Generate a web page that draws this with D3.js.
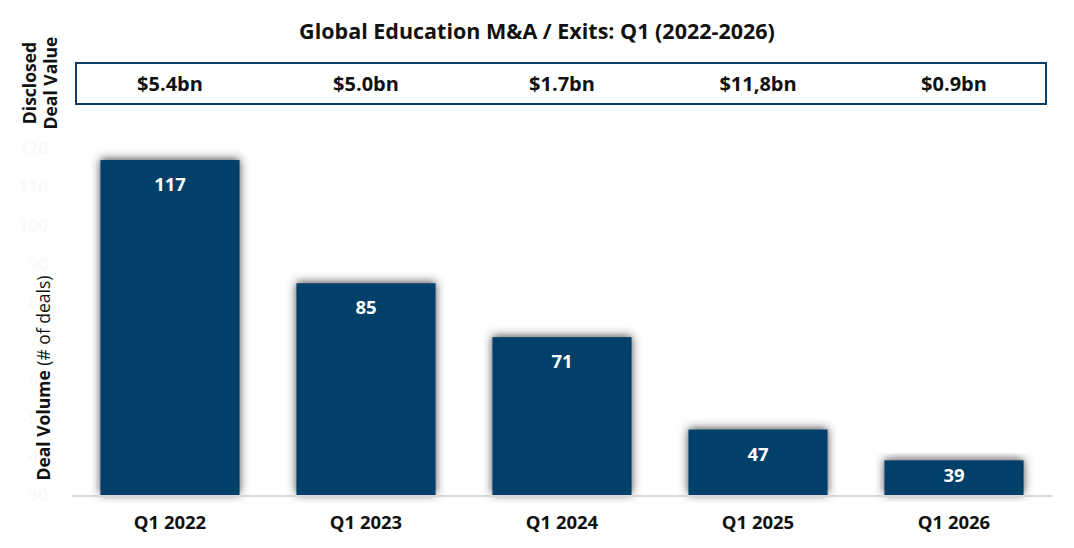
<!DOCTYPE html>
<meta charset="utf-8">
<style>
    body {
        margin: 0;
        background: #fff;
        font-family: "Open Sans", sans-serif;
    }
</style>
<body>
    <svg width="1074" height="548"></svg>

    <script src="https://d3js.org/d3.v7.min.js"></script>
    <script>
        // données
        const quarters = ["Q1 2022", "Q1 2023", "Q1 2024", "Q1 2025", "Q1 2026"];
        const dealVolume = [117, 85, 71, 47, 39];
        const dealValue = ["$5.4bn", "$5.0bn", "$1.7bn", "$11,8bn", "$0.9bn"];
        const yTicks = [30, 40, 50, 60, 70, 80, 90, 100, 110, 120];

        const data = quarters.map((q, i) => ({ q, volume: dealVolume[i], value: dealValue[i] }));

        const svg = d3.select("svg");
        const width = +svg.attr("width");
        const height = +svg.attr("height");
        const margin = { top: 110, bottom: 53, left: 72, right: 22 };
        const navy = "#003f69";

        const x = d3.scaleBand()
            .domain(quarters)
            .range([margin.left, width - margin.right])
            .paddingInner(0.29)
            .paddingOuter(0.145);

        const y = d3.scaleLinear()
            .domain([30, 130])
            .range([height - margin.bottom, margin.top]);

        // ombre des barres
        const defs = svg.append("defs");
        const shadow = defs.append("filter")
            .attr("id", "shadow")
            .attr("x", "-20%").attr("y", "-20%")
            .attr("width", "140%").attr("height", "140%");
        shadow.append("feDropShadow")
            .attr("dx", 0)
            .attr("dy", -1)
            .attr("stdDeviation", 5)
            .attr("flood-color", "#333")
            .attr("flood-opacity", 0.9);

        // titre
        svg.append("text")
            .attr("x", 537)
            .attr("y", 39)
            .attr("text-anchor", "middle")
            .style("font-size", "21.5px")
            .style("font-weight", "bold")
            .style("fill", "#111")
            .text("Global Education M&A / Exits: Q1 (2022-2026)");

        // axe y (étiquettes presque blanches)
        const yAxis = svg.append("g")
            .attr("transform", `translate(${margin.left - 24},0)`)
            .call(d3.axisLeft(y).tickValues(yTicks).tickSize(0).tickPadding(0));
        yAxis.select(".domain").remove();
        yAxis.selectAll("text")
            .style("font-size", "17px")
            .style("font-family", "Open Sans, sans-serif")
            .style("fill", "#f8f8f8");

        // boîte des valeurs
        svg.append("rect")
            .attr("x", margin.left + 4)
            .attr("y", 63)
            .attr("width", 970)
            .attr("height", 41)
            .attr("fill", "#fff")
            .attr("stroke", "#0d3f66")
            .attr("stroke-width", 2);

        svg.append("g")
            .selectAll("text")
            .data(data)
            .join("text")
            .attr("x", d => x(d.q) + x.bandwidth() / 2)
            .attr("y", 91)
            .attr("text-anchor", "middle")
            .style("font-size", "20px")
            .style("font-weight", "bold")
            .style("fill", "#111")
            .text(d => d.value);

        // titres verticaux
        const discl = svg.append("g").attr("transform", "translate(37,83) rotate(-90)");
        discl.append("text")
            .attr("text-anchor", "middle")
            .attr("y", -1)
            .style("font-size", "17.5px")
            .style("font-weight", "bold")
            .style("fill", "#111")
            .text("Disclosed");
        discl.append("text")
            .attr("text-anchor", "middle")
            .attr("y", 20)
            .style("font-size", "17.5px")
            .style("font-weight", "bold")
            .style("fill", "#111")
            .text("Deal Value");

        const volTitle = svg.append("text")
            .attr("transform", "translate(50,378) rotate(-90)")
            .attr("text-anchor", "middle")
            .style("font-size", "17.5px")
            .style("fill", "#111");
        volTitle.append("tspan").style("font-weight", "bold").text("Deal Volume ");
        volTitle.append("tspan").text("(# of deals)");

        // barres
        svg.append("g")
            .selectAll("rect")
            .data(data)
            .join("rect")
            .attr("x", d => x(d.q))
            .attr("y", d => y(d.volume))
            .attr("width", x.bandwidth())
            .attr("height", d => y(30) - y(d.volume))
            .attr("fill", navy)
            .attr("filter", "url(#shadow)");

        // ligne de base
        svg.append("line")
            .attr("x1", margin.left)
            .attr("x2", width - margin.right)
            .attr("y1", y(30) + 1)
            .attr("y2", y(30) + 1)
            .attr("stroke", "#d9d9d9")
            .attr("stroke-width", 2);

        // étiquettes des barres
        svg.append("g")
            .selectAll("text")
            .data(data)
            .join("text")
            .attr("x", d => x(d.q) + x.bandwidth() / 2)
            .attr("y", d => {
                const top = y(d.volume), mid = (y(d.volume) + y(30)) / 2;
                return Math.min(top + 24, mid - 3) + 7;
            })
            .attr("text-anchor", "middle")
            .style("font-size", "18.5px")
            .style("font-weight", "bold")
            .style("fill", "#fff")
            .text(d => d.volume);

        // axe x
        svg.append("g")
            .selectAll("text")
            .data(quarters)
            .join("text")
            .attr("x", d => x(d) + x.bandwidth() / 2)
            .attr("y", 529)
            .attr("text-anchor", "middle")
            .style("font-size", "18.5px")
            .style("font-weight", "bold")
            .style("fill", "#111")
            .text(d => d);
    </script>
</body>
